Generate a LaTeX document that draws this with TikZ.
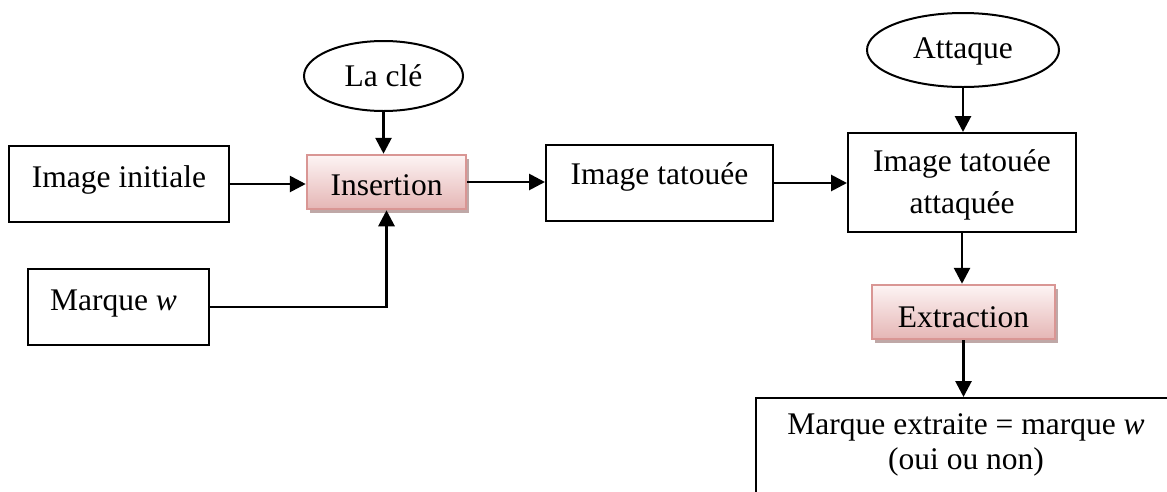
\documentclass[tikz,border=0pt]{standalone}
\usepackage{fontspec}
\setmainfont{Liberation Serif}
\usetikzlibrary{arrows.meta,shapes.geometric,shadows}
\definecolor{pinkborder}{HTML}{D99694}
\definecolor{pinktop}{HTML}{FDF4F4}
\definecolor{pinkbot}{HTML}{E5B6B5}
\definecolor{pinkshadow}{HTML}{BFA8A7}
\newcommand\diagfont{\fontsize{31.5}{36}\selectfont}
\tikzset{
  box/.style={draw, line width=2pt, inner sep=0pt, font=\diagfont, anchor=base},
  proc/.style={box, draw=pinkborder, line width=2.5pt, top color=pinktop, bottom color=pinkbot,
    drop shadow={shadow xshift=3pt, shadow yshift=-3.5pt, fill=pinkshadow, opacity=1}},
  oval/.style={draw, ellipse, line width=2pt, inner sep=0pt, font=\diagfont},
  arr/.style={line width=2.8pt, -{Triangle[length=16pt,width=16pt]}}
}
\begin{document}
\begin{tikzpicture}[x=1pt,y=-1pt]
\useasboundingbox[fill=white] (0,0) rectangle (1167,491);
\clip (0,0) rectangle (1167,491);

% inputs and insertion
\node[box, minimum width=220pt, text height=41pt, text depth=35pt] (ini) at (119,187) {Image initiale};
\node[box, minimum width=181pt, text height=41pt, text depth=35pt] (mw) at (118.5,310) {Marque \textit{w}\hspace*{10pt}};
\node[proc, minimum width=159pt, text height=40pt, text depth=14pt] (ins) at (386.5,195) {Insertion};
\node[oval, minimum width=159pt, minimum height=70pt] (cle) at (383.5,76) {La clé};

% watermarked image and attack
\node[box, minimum width=227pt, text height=39pt, text depth=37pt] (tat) at (659.5,184) {Image tatouée};
\node[oval, minimum width=192pt, minimum height=74pt, text height=17pt, text depth=0pt] (atq) at (963,50) {Attaque};
\node[draw, line width=2pt, inner sep=0pt, font=\diagfont, align=center,
      minimum width=228pt, minimum height=99pt] (att) at (962,182.5) {\rule{0pt}{26pt}Image tatouée\\[6pt]attaquée};

% extraction and result
\node[proc, minimum width=183pt, text height=42pt, text depth=12pt] (ext) at (963.5,327) {Extraction};
\node[draw, line width=2pt, inner sep=0pt, anchor=north west,
      minimum width=440pt, minimum height=120pt] (res) at (755,397) {};
\node[inner sep=0pt, font=\diagfont, align=center, anchor=north] (restxt) at (966,413.5)
  {Marque extraite = marque \textit{w}\\[-1pt](oui ou non)};

% connectors
\draw[arr] (ini.east) -- (ini.east -| ins.west);
\draw[arr] (cle.south) -- (cle.south |- ins.north);
\draw[arr] (mw.east) -- (mw.east -| ins.south) -- (ins.south);
\draw[arr] (ins.east) -- (ins.east -| tat.west);
\draw[arr] (tat.east) -- (tat.east -| att.west);
\draw[arr] (atq.south) -- (atq.south |- att.north);
\draw[arr] (att.south) -- (att.south |- ext.north);
\draw[arr] (ext.south) -- (ext.south |- res.north);
\end{tikzpicture}
\end{document}
